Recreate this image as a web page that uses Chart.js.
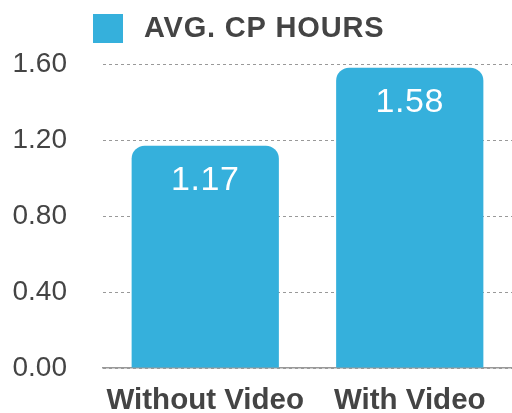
<!DOCTYPE html>
<html>
<head>
<meta charset="utf-8">
<script src="https://cdn.jsdelivr.net/npm/chart.js@4.4.1/dist/chart.umd.min.js"></script>
<style>
  html, body { margin: 0; padding: 0; background: #fff; }
  #caja { width: 512px; height: 413px; }
</style>
</head>
<body>
<div id="caja"><canvas id="grafico"></canvas></div>
<script>
const categorias = ["Without Video", "With Video"];
const horas = [1.17, 1.58];
const nombreSerie = "AVG. CP HOURS";
const ticksY = [0, 0.4, 0.8, 1.2, 1.6];

const azul = "#35b0dc";
const gris = "#444444";
const fuente = "'Liberation Sans', Arial, sans-serif";

// leyenda dibujada a mano, arriba a la izquierda
const leyenda = {
    id: "leyenda",
    afterDraw(chart) {
        const ctx = chart.ctx;
        const ds = chart.data.datasets[0];
        ctx.save();
        ctx.fillStyle = ds.backgroundColor;
        ctx.fillRect(93, 14, 30, 29);
        ctx.fillStyle = gris;
        ctx.font = "bold 29px " + fuente;
        ctx.letterSpacing = "0.8px";
        ctx.textBaseline = "middle";
        ctx.textAlign = "left";
        ctx.fillText(ds.label, 144, 29);
        ctx.restore();
    }
};

// valores dentro de cada barra
const valores = {
    id: "valores",
    afterDraw(chart) {
        const ctx = chart.ctx;
        const meta = chart.getDatasetMeta(0);
        ctx.save();
        ctx.fillStyle = "#ffffff";
        ctx.font = "34px " + fuente;
        ctx.letterSpacing = "0.6px";
        ctx.textAlign = "center";
        ctx.textBaseline = "middle";
        meta.data.forEach((barra, i) => {
            ctx.fillText(horas[i].toFixed(2), barra.x, barra.y + 35);
        });
        ctx.restore();
    }
};

new Chart(document.getElementById("grafico"), {
    type: "bar",
    data: {
        labels: categorias,
        datasets: [{
            label: nombreSerie,
            data: horas,
            backgroundColor: azul,
            borderRadius: { topLeft: 13, topRight: 13 },
            borderSkipped: "start",
            barPercentage: 0.72,
            categoryPercentage: 1
        }]
    },
    options: {
        responsive: true,
        maintainAspectRatio: false,
        animation: false,
        layout: { padding: { top: 64, left: 13, right: 0, bottom: 0 } },
        plugins: {
            legend: { display: false },
            tooltip: { enabled: false }
        },
        scales: {
            x: {
                afterFit: (s) => { s.paddingLeft = 0; s.paddingRight = 0; s.height = 45; },
                grid: { display: false, drawTicks: false },
                border: { display: true, color: "#999999", width: 1.5 },
                ticks: {
                    color: gris,
                    padding: 15,
                    maxRotation: 0,
                    minRotation: 0,
                    autoSkip: false,
                    font: { family: fuente, size: 29.5, weight: "bold" }
                }
            },
            y: {
                min: 0,
                max: 1.6,
                z: 1,
                // el padding de los ticks no debe empujar el área del gráfico
                afterFit: (s) => { s.width = 90; s.paddingTop = 0; s.paddingBottom = 0; },
                afterBuildTicks: (eje) => { eje.ticks = ticksY.map(v => ({ value: v })); },
                grid: { color: "rgba(0,0,0,0.4)", drawTicks: false },
                border: { display: false, dash: [3, 3] },
                ticks: {
                    color: gris,
                    padding: 36,
                    callback: (v) => Number(v).toFixed(2),
                    font: { family: fuente, size: 28 }
                }
            }
        }
    },
    plugins: [leyenda, valores]
});
</script>
</body>
</html>
